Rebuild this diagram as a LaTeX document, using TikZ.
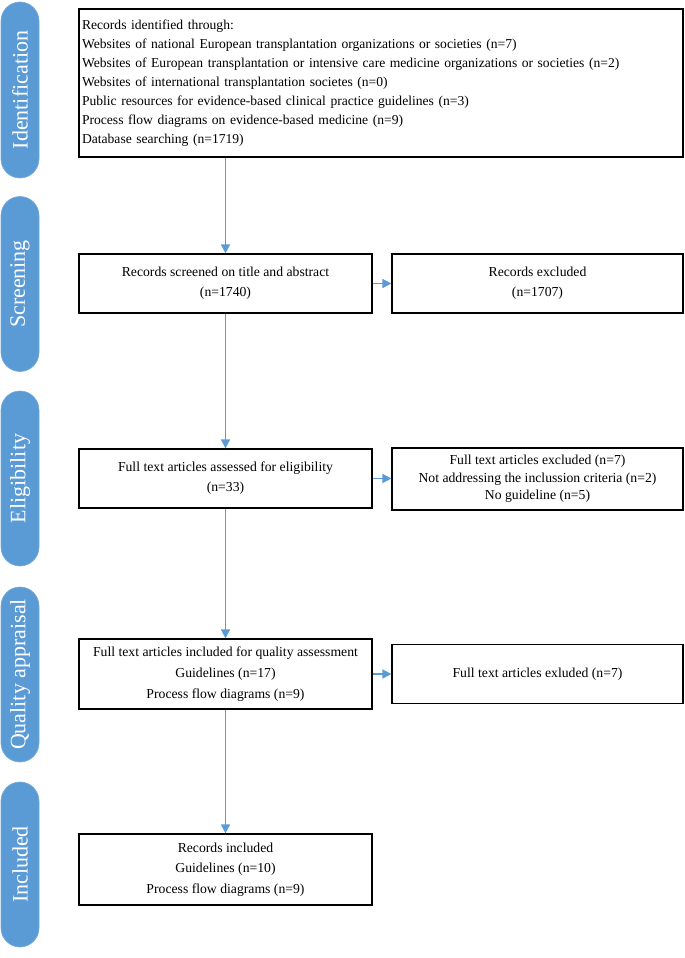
\documentclass[tikz,border=0pt]{standalone}
\usepackage{fontspec}
\setmainfont{Liberation Serif}
\usetikzlibrary{arrows.meta}
\definecolor{pblue}{RGB}{91,155,213}
\begin{document}
\begin{tikzpicture}[x=1pt,y=-1pt,
  pill/.style={rotate=90, fill=pblue, draw=pblue!85!white, line width=0.6pt,
    rounded corners=19pt, minimum width=#1, minimum height=38pt, inner sep=0pt,
    text=white, font=\fontsize{22}{24}\selectfont},
  box/.style={draw=black, line width=1.2pt, inner sep=0pt, align=center,
    minimum width=293pt, font=\fontsize{13.7}{20}\selectfont},
  xbox/.style={box, minimum width=291pt},
  arr/.style={draw=pblue, line width=1.6pt, -{Triangle[length=9pt,width=9pt]}}]
\useasboundingbox (0,0) rectangle (685,958);

% side labels
\node[pill=176pt] (pid) at (20,90) {Identification};
\node[pill=175pt] (psc) at (20,284) {Screening};
\node[pill=175pt] (pel) at (20,478.5) {Eligibility};
\node[pill=175pt] (pqa) at (20,674.5) {Quality appraisal};
\node[pill=165pt] (pin) at (20,864.5) {Included};

% boxes
\node[draw=black, line width=1.2pt, inner xsep=3pt, inner ysep=0pt, text width=598pt,
  minimum height=148pt, align=left, font=\fontsize{13.6}{19}\selectfont]
  (idb) at (381,83) {Records identified through:\\
Websites of national European transplantation organizations or societies (n=7)\\
Websites of European transplantation or intensive care medicine organizations or societies (n=2)\\
Websites of international transplantation societes (n=0)\\
Public resources for evidence-based clinical practice guidelines (n=3)\\
Process flow diagrams on evidence-based medicine (n=9)\\
Database searching (n=1719)};

\node[box, minimum height=59pt] (scr) at (225.5,283.5) {Records screened on title and abstract\\(n=1740)};
\node[xbox, minimum height=59pt] (scrx) at (537.5,283.5) {Records excluded\\(n=1707)};

\node[box, minimum height=59pt] (eli) at (225.5,478.5) {Full text articles assessed for eligibility\\(n=33)};
\node[xbox, minimum height=62pt, font=\fontsize{13.7}{17.5}\selectfont] (elix) at (537.5,479)
  {Full text articles excluded (n=7)\\Not addressing the inclussion criteria (n=2)\\No guideline (n=5)};

\node[box, minimum height=70pt, font=\fontsize{13.7}{21}\selectfont] (qua) at (225.5,674)
  {Full text articles included for quality assessment\\Guidelines (n=17)\\Process flow diagrams (n=9)};
\node[xbox, minimum height=59pt] (quax) at (537.5,674) {Full text articles exluded (n=7)};

\node[box, minimum height=71pt, font=\fontsize{13.7}{20.5}\selectfont] (inc) at (225.5,869.5)
  {Records included\\Guidelines (n=10)\\Process flow diagrams (n=9)};

% connectors
\draw[arr] (idb.south -| scr.north) -- (scr.north);
\draw[arr] (scr) -- (eli);
\draw[arr] (eli) -- (qua);
\draw[arr] (qua) -- (inc);
\draw[arr] (scr.east) -- (scr.east -| scrx.west);
\draw[arr] (eli.east) -- (eli.east -| elix.west);
\draw[arr] (qua.east) -- (qua.east -| quax.west);
\end{tikzpicture}
\end{document}
